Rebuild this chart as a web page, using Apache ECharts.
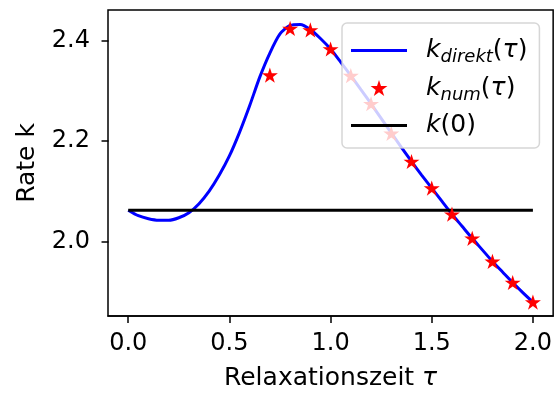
<!DOCTYPE html>
<html><head><meta charset="utf-8">
<script src="https://cdn.jsdelivr.net/npm/echarts@6/dist/echarts.min.js"></script>
<style>html,body{margin:0;padding:0;background:#fff}#c{width:555px;height:396px}</style>
</head><body><div id="c"></div>
<script>
// ---- data ----
const tau = [0.00,0.05,0.10,0.15,0.20,0.25,0.30,0.35,0.40,0.45,0.50,0.55,0.60,0.65,0.70,0.75,0.80,0.85,0.90,0.95,1.00,
             1.05,1.10,1.15,1.20,1.25,1.30,1.35,1.40,1.45,1.50,1.55,1.60,1.65,1.70,1.75,1.80,1.85,1.90,1.95,2.00];
const kDirekt = [2.062,2.051,2.045,2.042,2.042,2.047,2.057,2.075,2.100,2.132,2.170,2.217,2.270,2.327,2.375,2.413,2.430,2.432,2.422,2.404,2.383,
                 2.357,2.330,2.302,2.274,2.245,2.216,2.187,2.159,2.132,2.106,2.080,2.054,2.030,2.006,1.983,1.960,1.939,1.918,1.898,1.879];
const tauNum = [0.7,0.8,0.9,1.0,1.1,1.2,1.3,1.4,1.5,1.6,1.7,1.8,1.9,2.0];
const kNum = [2.331,2.424,2.421,2.383,2.330,2.274,2.215,2.159,2.106,2.054,2.006,1.960,1.918,1.879];
const k0Tau = [0, 2];
const k0Value = 2.062;
const xTicks = [0, 0.5, 1.0, 1.5, 2.0];
const yTicks = [2.0, 2.2, 2.4];
const xLabel = 'Relaxationszeit {it|τ}';
const yLabel = 'Rate k';

// ---- chart ----
const FONT = 'DejaVu Sans';
const FS = 24;
const LFS = 25;
const STAR = 'path://M50,0 L61.23,34.55 L97.55,34.55 L68.17,55.90 L79.39,90.45 L50,69.1 L20.61,90.45 L31.83,55.90 L2.45,34.55 L38.77,34.55 Z';
const LINEICON = 'path://M0,0 h56 v3 h-56 z';

const chart = echarts.init(document.getElementById('c'), null, {renderer: 'canvas'});
const mainStyle = {fontFamily: FONT, fontSize: FS, color: '#000'};
chart.setOption({
  animation: false,
  grid: {left: 108, right: 1, top: 10, bottom: 78, show: true, borderColor: '#000', borderWidth: 1.5, backgroundColor: 'transparent'},
  xAxis: [{
    type: 'value', min: -0.1, max: 2.1,
    name: xLabel, nameLocation: 'middle', nameGap: 50,
    nameTextStyle: {fontFamily: FONT, fontSize: LFS, color: '#000', rich: {it: {fontFamily: FONT, fontSize: LFS, fontStyle: 'italic', color: '#000'}}},
    axisLine: {show: true, onZero: false, lineStyle: {color: '#000', width: 1.5}},
    splitLine: {show: false},
    axisTick: {show: true, inside: false, length: 7, lineStyle: {color: '#000', width: 1.5}, customValues: xTicks},
    axisLabel: Object.assign({}, mainStyle, {margin: 16, customValues: xTicks, formatter: v => v.toFixed(1)})
  }, {
    // helper axis: its zero sits just at the left frame so the y axis anchors there
    type: 'value', min: -0.0012, max: 1, show: true,
    axisLine: {show: false, onZero: false}, axisTick: {show: false}, axisLabel: {show: false}, splitLine: {show: false}
  }],
  yAxis: {
    type: 'value', min: 1.8513, max: 2.4607,
    name: yLabel, nameLocation: 'middle', nameGap: 68, nameRotate: 90,
    nameTextStyle: {fontFamily: FONT, fontSize: LFS, color: '#000'},
    axisLine: {show: false, onZero: true, onZeroAxisIndex: 1, lineStyle: {color: '#000', width: 1.5}},
    splitLine: {show: false},
    axisTick: {show: true, inside: false, length: 7, lineStyle: {color: '#000', width: 1.5}, customValues: yTicks},
    axisLabel: Object.assign({}, mainStyle, {margin: 18, customValues: yTicks, formatter: v => v.toFixed(1)})
  },
  legend: {
    orient: 'vertical', left: 342, top: 23, z: 20,
    padding: [15, 12, 10, 9],
    itemWidth: 56, itemHeight: 16, itemGap: 9,
    borderColor: 'rgba(204,204,204,0.8)', borderWidth: 1.5, borderRadius: 5,
    backgroundColor: 'rgba(255,255,255,0.8)',
    symbolKeepAspect: true,
    data: [
      {name: 'kdirekt', icon: LINEICON, itemStyle: {color: '#0000ff', borderWidth: 0}},
      {name: 'knum', icon: STAR, itemStyle: {color: '#ff0000', borderWidth: 0}},
      {name: 'k0', icon: LINEICON, itemStyle: {color: '#000000', borderWidth: 0}}
    ],
    formatter: function (name) {
      if (name === 'kdirekt') return '{it|k}{sub|direkt}{n|(}{it|τ}{n|)}';
      if (name === 'knum') return '{it|k}{sub|num}{n|(}{it|τ}{n|)}';
      return '{it|k}{n|(0)}';
    },
    textStyle: {
      padding: [0, 0, 0, 14],
      rich: {
        it: {fontFamily: FONT, fontSize: LFS, fontStyle: 'italic', color: '#000', lineHeight: 32},
        n: {fontFamily: FONT, fontSize: LFS, color: '#000', lineHeight: 32},
        sub: {fontFamily: FONT, fontSize: 18, fontStyle: 'italic', color: '#000', lineHeight: 20, verticalAlign: 'bottom'}
      }
    }
  },
  series: [
    {
      name: 'kdirekt', type: 'line', showSymbol: false, symbol: 'none', smooth: 0.25, z: 2,
      xAxisIndex: 0,
      data: tau.map((t, i) => [t, kDirekt[i]]),
      itemStyle: {color: '#0000ff'},
      lineStyle: {color: '#0000ff', width: 3}
    },
    {
      name: 'knum', type: 'scatter', symbol: STAR, symbolSize: 16, symbolKeepAspect: true, z: 3,
      xAxisIndex: 0,
      data: tauNum.map((t, i) => [t, kNum[i]]),
      itemStyle: {color: '#ff0000', opacity: 1}
    },
    {
      name: 'k0', type: 'line', showSymbol: false, symbol: 'none', z: 2,
      xAxisIndex: 0,
      data: k0Tau.map(t => [t, k0Value]),
      itemStyle: {color: '#000000'},
      lineStyle: {color: '#000000', width: 3}
    }
  ]
});
</script>
</body></html>
